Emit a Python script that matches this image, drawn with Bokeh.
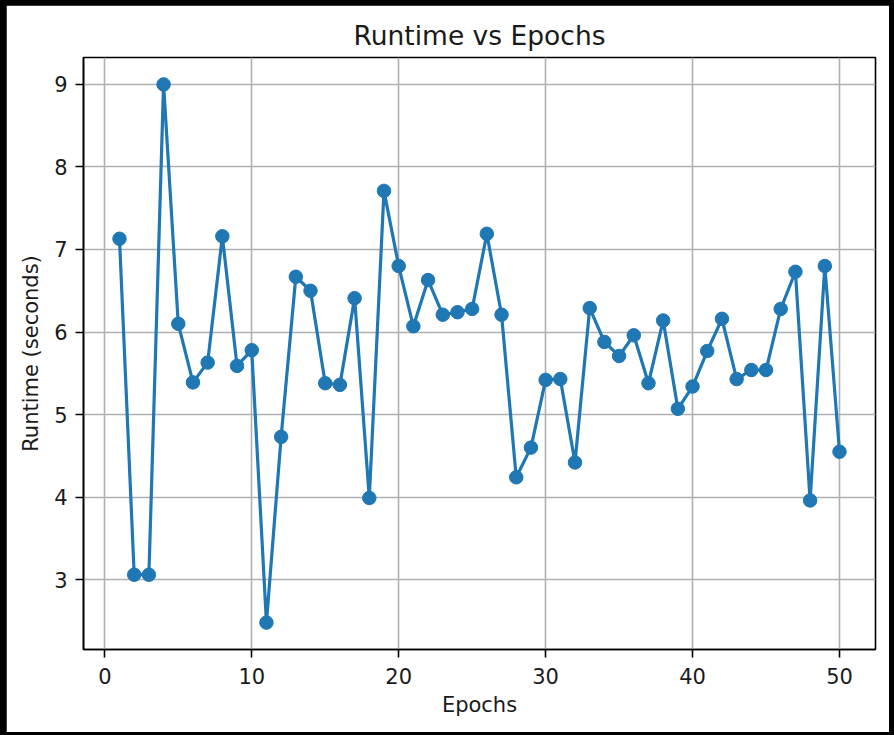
from bokeh.plotting import figure
from bokeh.models import Range1d, FixedTicker, GlobalInlineStyleSheet
from bokeh.embed import file_html
from bokeh.resources import INLINE

epochs = list(range(1, 51))
runtime = [7.13, 3.06, 3.06, 9.00, 6.10, 5.39, 5.63, 7.16, 5.59, 5.78,
           2.48, 4.73, 6.67, 6.50, 5.38, 5.36, 6.41, 3.99, 7.71, 6.80,
           6.07, 6.63, 6.21, 6.24, 6.28, 7.19, 6.21, 4.24, 4.60, 5.42,
           5.43, 4.42, 6.29, 5.88, 5.71, 5.96, 5.38, 6.14, 5.07, 5.34,
           5.77, 6.16, 5.43, 5.54, 5.54, 6.28, 6.73, 3.96, 6.80, 4.55]
x_ticks = [0, 10, 20, 30, 40, 50]
y_ticks = [3, 4, 5, 6, 7, 8, 9]

title_text = "Runtime vs Epochs"
x_label = "Epochs"
y_label = "Runtime (seconds)"

FONT = "DejaVu Sans"
BLUE = "#1f77b4"

xspan = max(epochs) - min(epochs)
yspan = max(runtime) - min(runtime)

p = figure(width=883, height=727, output_backend="svg", toolbar_location=None,
           x_range=Range1d(min(epochs) - 0.05 * xspan, max(epochs) + 0.05 * xspan),
           y_range=Range1d(min(runtime) - 0.05 * yspan, max(runtime) + 0.05 * yspan),
           min_border_left=77, min_border_right=14, min_border_top=52, min_border_bottom=83,
           margin=(5, 5, 3, 6),
           title=title_text)

p.stylesheets = [GlobalInlineStyleSheet(css="html,body{margin:0;padding:0;background:#000;overflow:hidden;}")]

p.background_fill_color = "white"
p.border_fill_color = "white"
p.outline_line_color = "black"
p.outline_line_width = 1.6

p.title.align = "center"
p.title.text_font = FONT
p.title.text_font_size = "26.5px"
p.title.text_font_style = "normal"
p.title.text_color = "#1a1a1a"
p.title.standoff = 14

p.line(epochs, runtime, line_color=BLUE, line_width=3.2)
p.scatter(epochs, runtime, size=13.5, fill_color=BLUE, line_color=BLUE)

for ax in (p.xaxis[0], p.yaxis[0]):
    ax.axis_line_color = "black"
    ax.axis_line_width = 1.6
    ax.major_tick_line_color = "black"
    ax.major_tick_line_width = 1.6
    ax.major_tick_out = 8
    ax.major_tick_in = 0
    ax.minor_tick_line_color = None
    ax.major_label_text_font = FONT
    ax.major_label_text_font_size = "21px"
    ax.major_label_text_color = "#1a1a1a"
    ax.axis_label_text_font = FONT
    ax.axis_label_text_font_size = "21px"
    ax.axis_label_text_font_style = "normal"
    ax.axis_label_text_color = "#1a1a1a"

p.xaxis.major_label_standoff = 10
p.xaxis.axis_label_standoff = 6
p.yaxis.major_label_standoff = 8
p.yaxis.axis_label_standoff = 8

p.xaxis.ticker = FixedTicker(ticks=x_ticks)
p.yaxis.ticker = FixedTicker(ticks=y_ticks)
p.xaxis.axis_label = x_label
p.yaxis.axis_label = y_label

p.xgrid.ticker = FixedTicker(ticks=x_ticks)
p.ygrid.ticker = FixedTicker(ticks=y_ticks)
p.grid.grid_line_color = "#b0b0b0"
p.grid.grid_line_width = 1.6

open("out.html", "w").write(file_html(p, INLINE))
